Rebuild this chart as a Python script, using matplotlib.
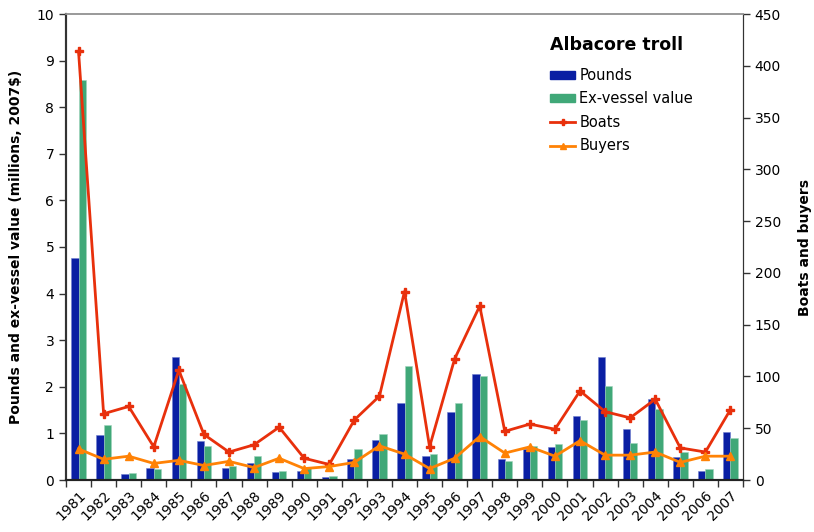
import matplotlib
matplotlib.use("Agg")
import matplotlib.pyplot as plt
import numpy as np
from matplotlib.lines import Line2D
from matplotlib.patches import Patch

years = [str(y) for y in range(1981, 2008)]
pounds = [4.76, 0.97, 0.13, 0.25, 2.64, 0.83, 0.25, 0.36, 0.18, 0.20, 0.07, 0.44, 0.86, 1.66,
          0.52, 1.45, 2.27, 0.46, 0.66, 0.71, 1.37, 2.64, 1.09, 1.74, 0.50, 0.20, 1.02]
exvessel = [8.58, 1.17, 0.14, 0.23, 2.07, 0.74, 0.31, 0.51, 0.20, 0.25, 0.09, 0.66, 0.99, 2.45,
            0.56, 1.65, 2.24, 0.41, 0.72, 0.77, 1.29, 2.02, 0.79, 1.52, 0.60, 0.24, 0.90]
boats = [414, 64, 71, 32, 106, 44, 27, 34, 51, 21, 15, 58, 81, 182,
         32, 117, 168, 47, 54, 49, 86, 66, 60, 78, 31, 27, 68]
buyers = [30, 20, 23, 16, 19, 14, 18, 12, 21, 11, 13, 17, 33, 25,
          11, 21, 42, 26, 32, 23, 38, 24, 24, 27, 17, 23, 23]

BLUE = "#0A1FA3"
GREEN = "#40A878"
RED = "#E8300C"
ORANGE = "#FF8205"

plt.rcParams['font.family'] = ['DejaVu Sans']
fig = plt.figure(figsize=(8.14, 5.32), dpi=100)
ax = fig.add_axes([66/814, 1-480/532, (743-66)/814, (480-14)/532])
ax2 = ax.twinx()

x = np.arange(len(years))
w = 0.29
ax.bar(x - w/2, pounds, w, color=BLUE, edgecolor="#6f7fcf", linewidth=0.4, zorder=2)
ax.bar(x + w/2, exvessel, w, color=GREEN, edgecolor="#9fd3bb", linewidth=0.4, zorder=2)
ax.set_ylim(0, 10)
ax.set_xlim(-0.5, len(years) - 0.5)
ax.set_yticks(range(0, 11))
ax.set_xticks(x)
ax.set_xticklabels(years, rotation=45, ha="right", rotation_mode="anchor", fontsize=10)
ax.tick_params(axis="x", length=0, pad=6)
ax.set_xticks(np.arange(-0.5, len(years)), minor=True)
ax.tick_params(axis="x", which="minor", length=5, width=1, direction="out", color="#333333")
ax.tick_params(axis="y", length=5, width=1, direction="out", labelsize=10, color="#333333")
ax.set_ylabel("Pounds and ex-vessel value (millions, 2007$)", fontsize=10, fontweight="bold", labelpad=10)

ax2.plot(x, boats, color=RED, lw=2, marker="P", ms=5.5, zorder=3)
ax2.plot(x, buyers, color=ORANGE, lw=2, marker="^", ms=6, zorder=3)
ax2.set_ylim(0, 450)
ax2.set_yticks(range(0, 451, 50))
ax2.tick_params(axis="y", length=5, width=1, direction="out", labelsize=10, color="#333333")
ax2.set_ylabel("Boats and buyers", fontsize=10, fontweight="bold", labelpad=12)

for a in (ax, ax2):
    a.spines["top"].set_color("#999999")
    a.spines["top"].set_linewidth(1.2)
    a.spines["left"].set_color("#333333")
    a.spines["left"].set_linewidth(1.5)
    a.spines["right"].set_color("#333333")
    a.spines["bottom"].set_color("#222222")
    a.spines["bottom"].set_linewidth(1.5)

handles = [Patch(color=BLUE), Patch(color=GREEN),
           Line2D([], [], color=RED, lw=2, marker="P", ms=5),
           Line2D([], [], color=ORANGE, lw=2, marker="^", ms=5)]
labels = ["Pounds", "Ex-vessel value", "Boats", "Buyers"]
leg = ax2.legend(handles, labels, loc="upper left", bbox_to_anchor=(0.696, 0.981), frameon=False,
                 title="Albacore troll", fontsize=10.5, handlelength=1.7, handleheight=0.5,
                 handletextpad=0.3, labelspacing=0.58,
                 title_fontproperties={"weight": "bold", "size": 12.5})
leg._legend_box.align = "left"
leg._legend_box.sep = 10

fig.savefig("out.png", dpi=100)
